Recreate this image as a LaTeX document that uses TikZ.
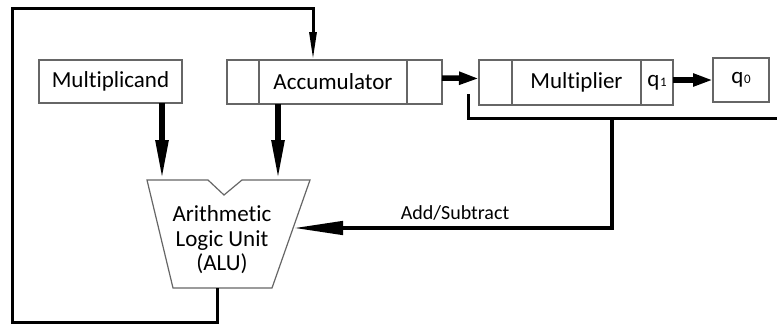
\documentclass[tikz,border=0pt]{standalone}
\usepackage{fontspec}
\setmainfont{Carlito}[Ligatures={NoCommon,NoContextual}]
\usetikzlibrary{arrows.meta}
\begin{document}
\begin{tikzpicture}[x=1pt,y=-1pt,
  cell/.style={draw=black!60, line width=1.3pt, minimum height=44pt, inner sep=0pt, outer sep=0pt, font=\fontsize{23}{26}\selectfont},
  bus/.style={line width=3pt},
  fat/.style={line width=5.5pt},
  lbl/.style={font=\fontsize{23}{24.5}\selectfont, align=center}]
\useasboundingbox (0,0) rectangle (777,325);
\fill[white] (0,0) rectangle (777,325);
% registers
\node[cell, minimum width=143pt, minimum height=43pt] (mcand) at (110.5,81.5) {Multiplicand};
\node[cell, minimum width=32pt] (accL) at (243,82) {};
\node[cell, minimum width=148pt] (acc) at (333,82) {Accumulator};
\node[cell, minimum width=35pt] (accR) at (424.5,82) {};
\node[cell, minimum width=33pt, minimum height=45pt] (mulL) at (495.5,82.5) {};
\node[cell, minimum width=129pt, minimum height=45pt] (mul) at (576.5,82.5) {Multiplier};
\node[cell, minimum width=32pt, minimum height=45pt] (q1) at (657,82.5) {q\kern0.5pt{\fontsize{13}{13}\selectfont 1}};
\node[cell, minimum width=56pt] (q0) at (741,80) {q\kern0.5pt{\fontsize{13}{13}\selectfont 0}};
% ALU
\draw[draw=black!60, line width=1.2pt] (147,180) -- (208,180) -- (224,195) -- (242,180) -- (310,180) -- (272,288) -- (173,288) -- cycle;
\node[lbl] (alu) at (222,240) {Arithmetic\\Logic Unit\\(ALU)};
\coordinate (aluA) at (162,180);
\coordinate (aluB) at (278,180);
\coordinate (aluOut) at (217,288);
\coordinate (aluIn) at (293,228);
\coordinate (accIn) at (313,60);
\coordinate (mtap) at (468,94);
\coordinate (mend) at (777,118);
% connectors
\draw[fat, -{Triangle[length=40pt,width=12pt]}] (mcand.south -| aluA) -- (aluA);
\draw[fat, -{Triangle[length=40pt,width=12pt]}] (acc.south -| aluB) -- (aluB);
\draw[bus, -{Triangle[length=28pt,width=7pt]}] (aluOut) -- (217,322) -- (12,322) -- (12,8) -- (313,8) -- (accIn);
\draw[fat, -{Triangle[length=20pt,width=12pt]}] ([yshift=4pt]accR.east) -- ([yshift=4pt]mulL.west);
\draw[fat, -{Triangle[length=20pt,width=12pt]}] (q1.east |- q0) -- (q0.west);
\draw[bus] (mtap) -- (468,118) -- (mend);
\draw[line width=4.5pt, -{Triangle[length=50pt,width=13pt]}] (612,118) -- (612,228) -- (aluIn);
\node[font=\fontsize{20}{24}\selectfont] (as) at (455,213) {Add/Subtract};
\end{tikzpicture}
\end{document}
